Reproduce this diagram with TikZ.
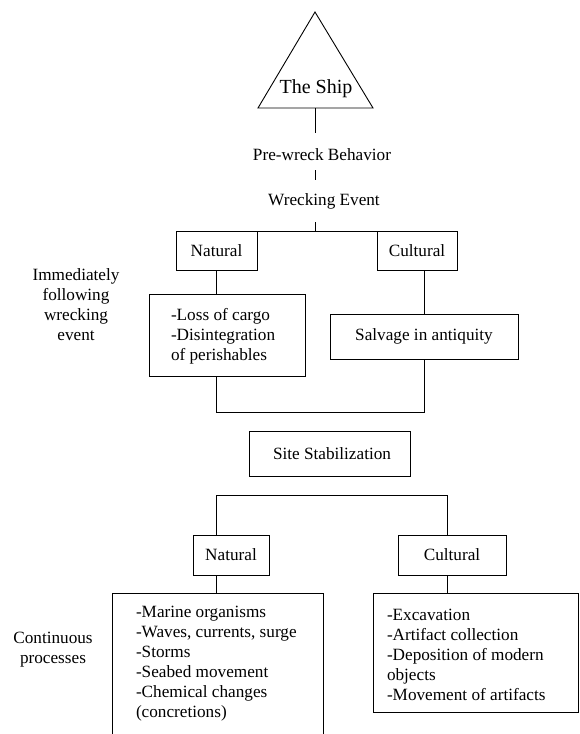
\documentclass[tikz,border=0pt]{standalone}
\usepackage{fontspec}
\setmainfont{Liberation Serif}
\newfontfamily\tnr{Liberation Serif}
\begin{document}
\begin{tikzpicture}[x=1pt,y=-1pt,
  every node/.style={font=\tnr\fontsize{17.2}{20}\selectfont, inner sep=0pt, outer sep=0pt},
  box/.style={draw, line width=0.9pt, minimum width=#1},
  conn/.style={line width=0.9pt},
  plain/.style={align=center},
  list/.style={align=left, anchor=west}]
\useasboundingbox (0,0) rectangle (580,734);
% the ship
\coordinate (apex) at (315,12);
\coordinate (bl) at (258,108);
\coordinate (br) at (373,108);
\coordinate (shipbase) at (315,108);
\draw[line width=0.9pt, line join=miter] (apex) -- (bl) -- (br) -- cycle;
\node (ship) at (316,89) {\fontsize{20}{24}\selectfont The Ship};
\node[plain] (pre) at (322,155) {Pre-wreck Behavior};
\node[plain] (wreck) at (324,201) {Wrecking Event};
\coordinate (t1) at (315,133);
\coordinate (t2a) at (315,170);
\coordinate (t2b) at (315,180);
\coordinate (t3a) at (315,222);
\coordinate (t3b) at (315,231);
\draw[conn] (shipbase) -- (t1);
\draw[conn] (t2a) -- (t2b);
\draw[conn] (t3a) -- (t3b);
% first level
\node[box=81pt, minimum height=39pt] (nat1) at (216.5,250.5) {Natural};
\node[box=80pt, minimum height=39pt] (cul1) at (417,250.5) {Cultural};
\draw[conn] (nat1.north east) -- (cul1.north west);
\node[box=156pt, minimum height=82pt] (loss) at (227,335) {};
\node[list] (losstext) at (171,336) {-Loss of cargo\\-Disintegration\\of perishables};
\node[box=188pt, minimum height=45pt] (salv) at (424,336.5) {Salvage in antiquity};
\coordinate (n1s) at (216,270);
\draw[conn] (n1s) -- (n1s |- loss.north);
\coordinate (c1s) at (424,270);
\draw[conn] (c1s) -- (salv.north);
\coordinate (lb) at (216,376);
\coordinate (jn) at (216,412);
\draw[conn] (lb) -- (jn) -| (salv.south);
\node[plain] (imm) at (76,304.5) {Immediately\\following\\wrecking\\event};
% site stabilization
\node[box=161pt, minimum height=45pt] (site) at (329.5,453.5) {\hspace*{5pt}Site Stabilization};
% second level
\node[box=76pt, minimum height=40pt] (nat2) at (231,555) {Natural};
\node[box=108pt, minimum height=40pt] (cul2) at (452,555) {Cultural};
\coordinate (h1) at (216,495);
\coordinate (h2) at (447,495);
\draw[conn] (216,535) coordinate (n2t) -- (h1) -- (h2) -- (447,535) coordinate (c2t);
\coordinate (n2b) at (216,575);
\coordinate (c2b) at (447,575);
\coordinate (nl1) at (112,737);
\coordinate (nl2) at (112,593);
\coordinate (nl3) at (323,593);
\coordinate (nl4) at (323,737);
\draw[conn] (nl1) -- (nl2) -- (nl3) -- (nl4);
\node[draw, line width=0.9pt, minimum width=205pt, minimum height=119pt] (cullist) at (475.5,652.5) {};
\draw[conn] (n2b) -- (n2b |- nl2);
\draw[conn] (c2b) -- (c2b |- cullist.north);
\node[list] (nattext) at (136,664) {-Marine organisms\\-Waves, currents, surge\\-Storms\\-Seabed movement\\-Chemical changes\\(concretions)};
\node[list] (cultext) at (387,655) {-Excavation\\-Artifact collection\\-Deposition of modern\\objects\\-Movement of artifacts};
\node[plain] (cont) at (53,650) {Continuous\\processes};
\end{tikzpicture}
\end{document}
